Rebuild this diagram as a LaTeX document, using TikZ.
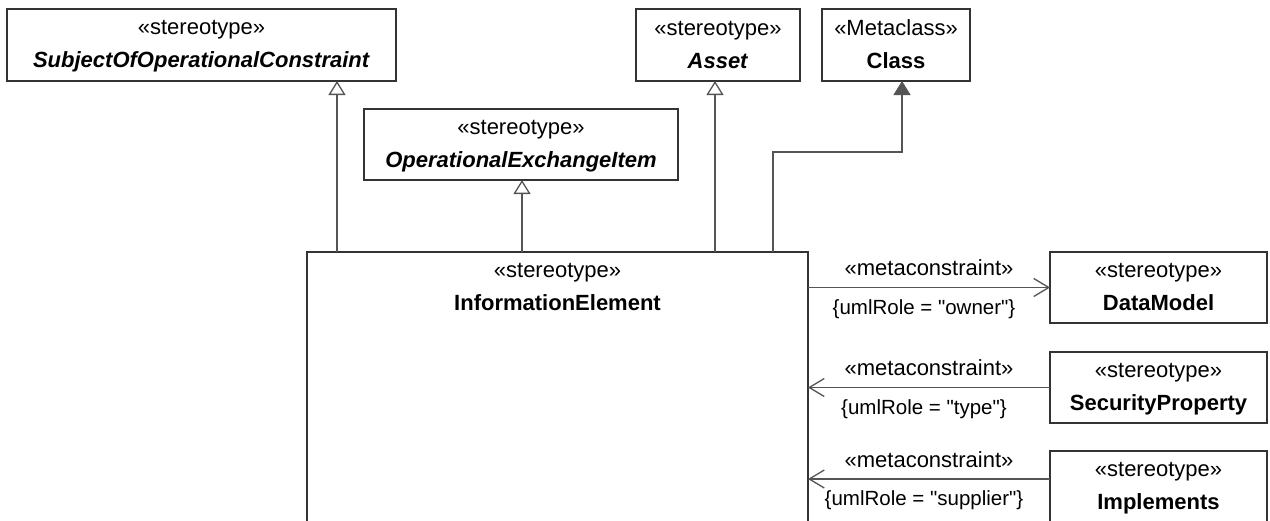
\documentclass[tikz,border=0pt]{standalone}
\usepackage{fontspec}
\setmainfont{Liberation Sans}
\usetikzlibrary{arrows.meta}
\definecolor{boxc}{HTML}{333333}
\definecolor{linec}{HTML}{555555}
\newcommand\upstrut{\rule{0pt}{17pt}}
\newcommand\downstrut{\rule[-4pt]{0pt}{4pt}}
\newcommand\umlname[1]{\textbf{\textit{#1}}}
\newcommand\dq{\textquotedbl}
\begin{document}
\begin{tikzpicture}[x=1pt,y=-1pt,
  umlbox/.style={draw=boxc, line width=1.3pt, fill=white, align=center,
    inner xsep=4pt, inner ysep=0pt, outer sep=0pt, minimum height=72pt,
    anchor=north west, font=\fontsize{22}{33}\selectfont},
  gen/.style={draw=linec, line width=1.3pt, -{Triangle[open,length=14pt,width=17pt,fill=white]}},
  ext/.style={draw=linec, line width=1.3pt, -{Triangle[length=14pt,width=17pt,fill=linec]}},
  dep/.style={draw=linec, line width=1.3pt, -{Straight Barb[length=15pt,width=18pt]}},
  stlbl/.style={font=\fontsize{22}{26}\selectfont, anchor=base, inner sep=0pt},
  lbl/.style={font=\fontsize{20.5}{24}\selectfont, anchor=base, inner sep=0pt}]
\clip (0,0) rectangle (1270,520);
\fill[white] (0,0) rectangle (1270,520);

\node[umlbox, minimum width=389pt] (subj) at (7,9)
  {\upstrut«stereotype»\\\umlname{SubjectOfOperationalConstraint}\downstrut};
\node[umlbox, minimum width=164pt] (asset) at (636,9)
  {\upstrut«stereotype»\\\umlname{Asset}\downstrut};
\node[umlbox, minimum width=148pt] (cls) at (822,9)
  {\upstrut«Metaclass»\\\textbf{Class}\downstrut};
\node[umlbox, minimum width=314pt, minimum height=71pt] (oei) at (364,109)
  {\upstrut«stereotype»\\\umlname{OperationalExchangeItem}\downstrut};
\node[umlbox, minimum width=501pt, minimum height=0pt, inner ysep=8pt] (ie) at (307,252)
  {\upstrut«stereotype»\\\textbf{InformationElement}\rule[-300pt]{0pt}{300pt}};
\node[umlbox, minimum width=217pt, minimum height=71pt] (dm) at (1050,252)
  {\upstrut«stereotype»\\\textbf{DataModel}\downstrut};
\node[umlbox, minimum width=217pt, minimum height=71pt] (sp) at (1050,352)
  {\upstrut«stereotype»\\\textbf{SecurityProperty}\downstrut};
\node[umlbox, minimum width=217pt] (imp) at (1050,451)
  {\upstrut«stereotype»\\\textbf{Implements}\downstrut};

\coordinate (x1) at (337,0);
\coordinate (x2) at (522,0);
\coordinate (x3) at (715,0);
\coordinate (x4) at (773,0);
\coordinate (x5) at (902,0);
\coordinate (cb) at (0,152);

\draw[gen] (ie.north -| x1) -- (subj.south -| x1);
\draw[gen] (ie.north -| x2) -- (oei.south -| x2);
\draw[gen] (ie.north -| x3) -- (asset.south -| x3);
\draw[ext] (ie.north -| x4) |- (cb -| x5) -- (cls.south -| x5);

\draw[dep] (ie.east |- dm.west) --
  node[stlbl, yshift=12pt] {«metaconstraint»}
  node[lbl, yshift=-27pt, xshift=-5pt] {\{umlRole = \dq owner\dq\}} (dm.west);
\draw[dep] (sp.west) --
  node[stlbl, yshift=12pt] {«metaconstraint»}
  node[lbl, yshift=-27pt, xshift=-5pt] {\{umlRole = \dq type\dq\}} (ie.east |- sp.west);
\coordinate (a3) at ([yshift=-28pt]imp.north west);
\draw[dep] (a3) --
  node[stlbl, yshift=12pt] {«metaconstraint»}
  node[lbl, yshift=-26pt, xshift=-5pt] {\{umlRole = \dq supplier\dq\}} (ie.east |- a3);
\end{tikzpicture}
\end{document}
